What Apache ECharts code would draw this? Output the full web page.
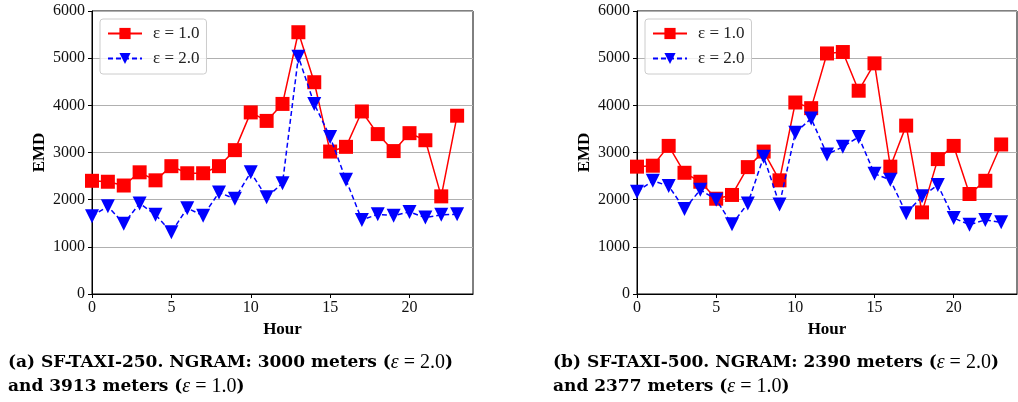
<!DOCTYPE html>
<html>
<head>
<meta charset="utf-8">
<script src="https://cdn.jsdelivr.net/npm/echarts@6/dist/echarts.min.js"></script>
<style>
  html, body { margin: 0; padding: 0; background: #fff; }
  #chart { width: 1018px; height: 402px; }
</style>
</head>
<body>
<div id="chart"></div>
<script>
// hours on the x axis
const hours = [0,1,2,3,4,5,6,7,8,9,10,11,12,13,14,15,16,17,18,19,20,21,22,23];

// (a) SF-TAXI-250
const taxi250Eps1 = [2400,2380,2300,2580,2410,2710,2560,2560,2710,3050,3850,3670,4030,5550,4490,3020,3120,3870,3390,3030,3410,3260,2070,3780];
const taxi250Eps2 = [1650,1860,1490,1920,1680,1310,1820,1660,2150,2020,2580,2050,2350,5030,4030,3330,2420,1570,1690,1660,1740,1620,1680,1690];

// (b) SF-TAXI-500
const taxi500Eps1 = [2700,2720,3140,2570,2380,2020,2100,2690,3020,2410,4060,3940,5100,5130,4310,4890,2700,3570,1730,2860,3140,2120,2400,3170];
const taxi500Eps2 = [2170,2400,2290,1800,2210,2000,1480,1920,2910,1900,3420,3720,2960,3120,3330,2550,2420,1710,2070,2310,1610,1470,1570,1520];

const xTicks = [0,5,10,15,20];
const legendNames = ['ε = 1.0', 'ε = 2.0'];

const serif = 'Liberation Serif';
const capFont = 'DejaVu Serif';

const pairs = (ys) => hours.map((h, i) => [h, ys[i]]);

function xAxisFor(idx) {
  return {
    type: 'value', gridIndex: idx, min: 0, max: 24, interval: 5,
    name: 'Hour', nameLocation: 'middle', nameGap: 26,
    nameTextStyle: { fontFamily: serif, fontWeight: 'bold', fontSize: 17, color: '#000' },
    axisLine: { show: true, onZero: false, lineStyle: { color: '#000', width: 1 } },
    axisTick: { show: true, length: 4, customValues: xTicks, lineStyle: { color: '#000' } },
    axisLabel: { customValues: xTicks, fontFamily: serif, fontSize: 16, color: '#111', margin: 6 },
    splitLine: { show: false }
  };
}

function yAxisFor(idx) {
  return {
    type: 'value', gridIndex: idx, min: 0, max: 6000, interval: 1000,
    name: 'EMD', nameLocation: 'middle', nameGap: 44,
    nameTextStyle: { fontFamily: serif, fontWeight: 'bold', fontSize: 17, color: '#000' },
    axisLine: { show: true, lineStyle: { color: '#000', width: 1 } },
    axisTick: { show: true, length: 4, lineStyle: { color: '#000' } },
    axisLabel: { fontFamily: serif, fontSize: 16, color: '#111', margin: 7, formatter: (v) => String(v) },
    splitLine: { show: true, lineStyle: { color: '#b0b0b0', width: 1 } }
  };
}

function redSeries(idx, ys) {
  return {
    name: legendNames[0], type: 'line', xAxisIndex: idx, yAxisIndex: idx,
    data: pairs(ys), symbol: 'rect', symbolSize: 14,
    lineStyle: { color: '#ff0000', width: 1.5 },
    itemStyle: { color: '#ff0000' }, z: 3, animation: false
  };
}

function blueSeries(idx, ys) {
  return {
    name: legendNames[1], type: 'line', xAxisIndex: idx, yAxisIndex: idx,
    data: pairs(ys), symbol: 'triangle', symbolRotate: 180, symbolSize: 14,
    lineStyle: { color: '#0000ff', width: 1.5, type: [5, 3] },
    itemStyle: { color: '#0000ff' }, z: 4, animation: false
  };
}

function legendFor(left) {
  return {
    left: left, top: 19, orient: 'vertical',
    data: legendNames,
    itemWidth: 34, itemHeight: 14, itemGap: 8,
    padding: [6, 7, 7, 7],
    borderColor: '#cccccc', borderWidth: 1, borderRadius: 3,
    backgroundColor: 'rgba(255,255,255,0.8)',
    textStyle: { fontFamily: serif, fontSize: 17, color: '#222', padding: [0, 0, 0, 6] },
    selectedMode: false
  };
}

const captionRich = {
  b: { fontFamily: capFont, fontWeight: 'bold', fontSize: 17, color: '#000' },
  m: { fontFamily: serif, fontStyle: 'italic', fontSize: 20, color: '#000' },
  n: { fontFamily: serif, fontSize: 20, color: '#000' }
};

const chart = echarts.init(document.getElementById('chart'));
chart.setOption({
  animation: false,
  grid: [
    { left: 92, top: 11, width: 381, height: 283, show: true, borderColor: '#000', borderWidth: 1 },
    { left: 637, top: 11, width: 380, height: 283, show: true, borderColor: '#000', borderWidth: 1 }
  ],
  xAxis: [xAxisFor(0), xAxisFor(1)],
  yAxis: [yAxisFor(0), yAxisFor(1)],
  legend: [legendFor(100), legendFor(645)],
  series: [
    redSeries(0, taxi250Eps1), blueSeries(0, taxi250Eps2),
    redSeries(1, taxi500Eps1), blueSeries(1, taxi500Eps2)
  ],
  graphic: [
    { type: 'text', left: 8, top: 353, style: { text: '{b|(a) SF-TAXI-250. NGRAM: 3000 meters (}{m|ε}{n| = 2.0}{b|)}', rich: captionRich } },
    { type: 'text', left: 8, top: 377, style: { text: '{b|and 3913 meters (}{m|ε}{n| = 1.0}{b|)}', rich: captionRich } },
    { type: 'text', left: 553, top: 353, style: { text: '{b|(b) SF-TAXI-500. NGRAM: 2390 meters (}{m|ε}{n| = 2.0}{b|)}', rich: captionRich } },
    { type: 'text', left: 553, top: 377, style: { text: '{b|and 2377 meters (}{m|ε}{n| = 1.0}{b|)}', rich: captionRich } }
  ]
});
</script>
</body>
</html>
